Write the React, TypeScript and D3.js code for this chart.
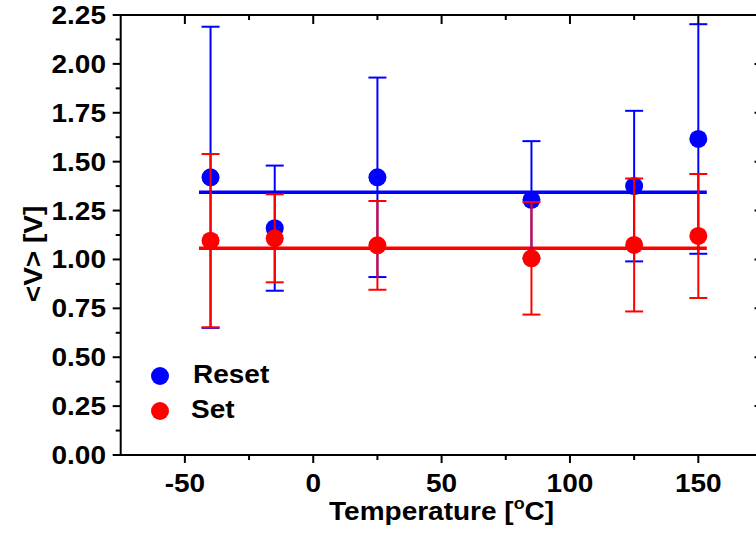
import React, { useEffect, useRef } from 'react';
import * as d3 from 'd3';

// temperatures in degrees C
const temps = [-40, -15, 25, 85, 125, 150];

// Reset voltage: mean and error
const resetV = [1.42, 1.16, 1.42, 1.305, 1.375, 1.616];
const resetErr = [0.77, 0.32, 0.51, 0.3, 0.385, 0.587];

// Set voltage: mean and error
const setV = [1.096, 1.108, 1.072, 1.006, 1.074, 1.12];
const setErr = [0.443, 0.225, 0.227, 0.288, 0.34, 0.317];

// horizontal average lines
const avgX = [-44.5, 153.3];
const resetAvg = 1.343;
const setAvg = 1.057;

const xMajor = [-50, 0, 50, 100, 150];
const xMinor = [-25, 25, 75, 125];
const yMajor = [0, 0.25, 0.5, 0.75, 1, 1.25, 1.5, 1.75, 2, 2.25];
const yMinor = [0.125, 0.375, 0.625, 0.875, 1.125, 1.375, 1.625, 1.875, 2.125];

const App = () => {
  const svgRef = useRef<SVGSVGElement>(null);

  useEffect(() => {
    const width = 756;
    const height = 535;
    const left = 120.7;
    const right = 762.5;
    const top = 15;
    const bottom = 455;
    const font = "'Liberation Sans', Arial, sans-serif";
    const sx = 1.12; // text in the original is a bit wide

    const svg = d3.select(svgRef.current);
    svg.selectAll('*').remove();
    svg.attr('width', width).attr('height', height).attr('viewBox', [0, 0, width, height]);

    const x = d3.scaleLinear([-75, 175], [left, right]);
    const y = d3.scaleLinear([0, 2.25], [bottom, top]);

    const series = [
      { color: '#0000ff', v: resetV, e: resetErr, avg: resetAvg },
      { color: '#ff0000', v: setV, e: setErr, avg: setAvg },
    ];

    // average lines
    series.forEach((s) => {
      svg.append('line')
        .attr('x1', x(avgX[0])).attr('x2', x(avgX[1]))
        .attr('y1', y(s.avg)).attr('y2', y(s.avg))
        .attr('stroke', s.color).attr('stroke-width', 3.5);
    });

    // error bars and markers
    series.forEach((s) => {
      const g = svg.append('g').attr('stroke', s.color).attr('stroke-width', 2);
      temps.forEach((t, i) => {
        const cx = x(t);
        const hi = y(s.v[i] + s.e[i]);
        const lo = y(s.v[i] - s.e[i]);
        g.append('line').attr('x1', cx).attr('x2', cx).attr('y1', hi).attr('y2', lo);
        g.append('line').attr('x1', cx - 9).attr('x2', cx + 9).attr('y1', hi).attr('y2', hi);
        g.append('line').attr('x1', cx - 9).attr('x2', cx + 9).attr('y1', lo).attr('y2', lo);
      });
      svg.append('g').selectAll('circle')
        .data(temps)
        .join('circle')
        .attr('cx', (d) => x(d))
        .attr('cy', (d, i) => y(s.v[i]))
        .attr('r', 9)
        .attr('fill', s.color);
    });

    const frame = svg.append('g').attr('stroke', 'black').attr('stroke-width', 2);

    frame.append('rect')
      .attr('x', left).attr('y', top)
      .attr('width', right - left).attr('height', bottom - top)
      .attr('fill', 'none');

    // bottom ticks (outward) and top ticks (inward)
    xMajor.forEach((d) => {
      frame.append('line').attr('x1', x(d)).attr('x2', x(d)).attr('y1', bottom).attr('y2', bottom + 8);
      frame.append('line').attr('x1', x(d)).attr('x2', x(d)).attr('y1', top).attr('y2', top + 9);
    });
    xMinor.forEach((d) => {
      frame.append('line').attr('x1', x(d)).attr('x2', x(d)).attr('y1', bottom).attr('y2', bottom + 5);
      frame.append('line').attr('x1', x(d)).attr('x2', x(d)).attr('y1', top).attr('y2', top + 5);
    });
    // left ticks (outward) and right ticks (inward)
    yMajor.forEach((d) => {
      frame.append('line').attr('x1', left - 8).attr('x2', left).attr('y1', y(d)).attr('y2', y(d));
      frame.append('line').attr('x1', right - 8).attr('x2', right).attr('y1', y(d)).attr('y2', y(d));
    });
    yMinor.forEach((d) => {
      frame.append('line').attr('x1', left - 5).attr('x2', left).attr('y1', y(d)).attr('y2', y(d));
      frame.append('line').attr('x1', right - 5).attr('x2', right).attr('y1', y(d)).attr('y2', y(d));
    });

    const txt = svg.append('g')
      .attr('font-family', font)
      .attr('font-weight', 'bold')
      .attr('font-size', 25)
      .attr('fill', 'black');

    const place = (tx: number, ty: number, rot = 0) =>
      `translate(${tx},${ty}) rotate(${rot}) scale(${sx},1)`;

    txt.selectAll('text.yt')
      .data(yMajor)
      .join('text')
      .attr('class', 'yt')
      .attr('transform', (d) => place(106, y(d) + 9))
      .attr('text-anchor', 'end')
      .text((d) => d3.format('.2f')(d));

    txt.selectAll('text.xt')
      .data(xMajor)
      .join('text')
      .attr('class', 'xt')
      .attr('transform', (d) => place(x(d), 492))
      .attr('text-anchor', 'middle')
      .text((d) => String(d));

    const xl = txt.append('text')
      .attr('transform', place(x(50), 520))
      .attr('text-anchor', 'middle');
    xl.append('tspan').text('Temperature [');
    xl.append('tspan').attr('font-size', 16).attr('dy', -11).text('o');
    xl.append('tspan').attr('dy', 11).text('C]');

    txt.append('text')
      .attr('transform', place(42, 254, -90))
      .attr('text-anchor', 'middle')
      .text('<V> [V]');

    // legend
    const legend = [
      { label: 'Reset', color: '#0000ff', cy: 376, tx: 193 },
      { label: 'Set', color: '#ff0000', cy: 411, tx: 191 },
    ];
    legend.forEach((l) => {
      svg.append('circle').attr('cx', 160).attr('cy', l.cy).attr('r', 9).attr('fill', l.color);
      txt.append('text').attr('transform', place(l.tx, l.cy + 7)).text(l.label);
    });
  }, []);

  return <svg ref={svgRef} style={{ position: 'absolute', left: 0, top: 0, background: 'white' }} />;
};

export default App;
